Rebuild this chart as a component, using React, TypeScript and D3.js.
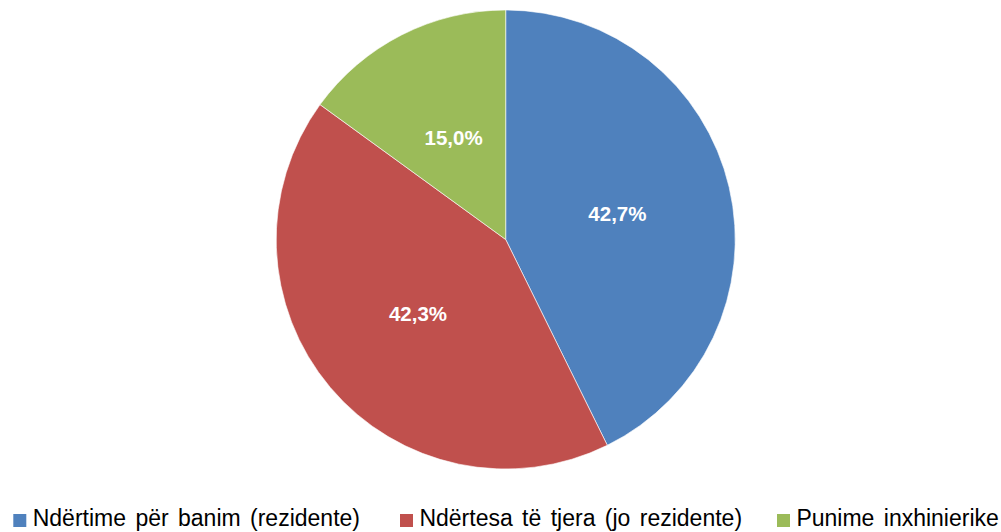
import React from "react";
import * as d3 from "d3";

const categories = [
  "Ndërtime për banim (rezidente)",
  "Ndërtesa të tjera (jo rezidente)",
  "Punime inxhinierike",
];
const values = [42.7, 42.3, 15.0];
const labels = ["42,7%", "42,3%", "15,0%"];
const colors = ["#4F81BD", "#C0504D", "#9BBB59"];

const W = 1001;
const H = 532;
const cx = 505.7;
const cy = 239.5;
const R = 229.5;

export default function App() {
  const pie = d3.pie<number>().sort(null).value((d) => d)(values);
  const arc = d3.arc<d3.PieArcDatum<number>>().innerRadius(0).outerRadius(R);
  const labelArc = d3
    .arc<d3.PieArcDatum<number>>()
    .innerRadius(R * 0.5)
    .outerRadius(R * 0.5);
  const legendX = [13.3, 400, 777];
  const font = "'Liberation Sans', Arial, sans-serif";
  const lfs = 20.5;
  return (
    <svg
      width={W}
      height={H}
      style={{ position: "absolute", left: 0, top: 0, background: "#fff" }}
    >
      <g transform={`translate(${cx},${cy})`}>
        {pie.map((p, i) => (
          <path
            key={i}
            d={arc(p) || ""}
            fill={colors[i]}
            stroke="#ffffff"
            strokeWidth={0.6}
          />
        ))}
        {pie.map((p, i) => {
          const [x, y] = labelArc.centroid(p);
          return (
            <text
              key={i}
              x={x}
              y={y + 0.358 * lfs}
              textAnchor="middle"
              fill="#ffffff"
              fontWeight="bold"
              fontSize={lfs}
              fontFamily={font}
            >
              {labels[i]}
            </text>
          );
        })}
      </g>
      {categories.map((c, i) => (
        <g key={i} transform={`translate(${legendX[i]},0)`}>
          <rect x={0} y={514} width={13} height={13} fill={colors[i]} />
          <text
            x={19.4}
            y={526}
            fontSize={23}
            fontFamily={font}
            fill="#000"
            style={{ wordSpacing: "3px" }}
          >
            {c}
          </text>
        </g>
      ))}
    </svg>
  );
}
